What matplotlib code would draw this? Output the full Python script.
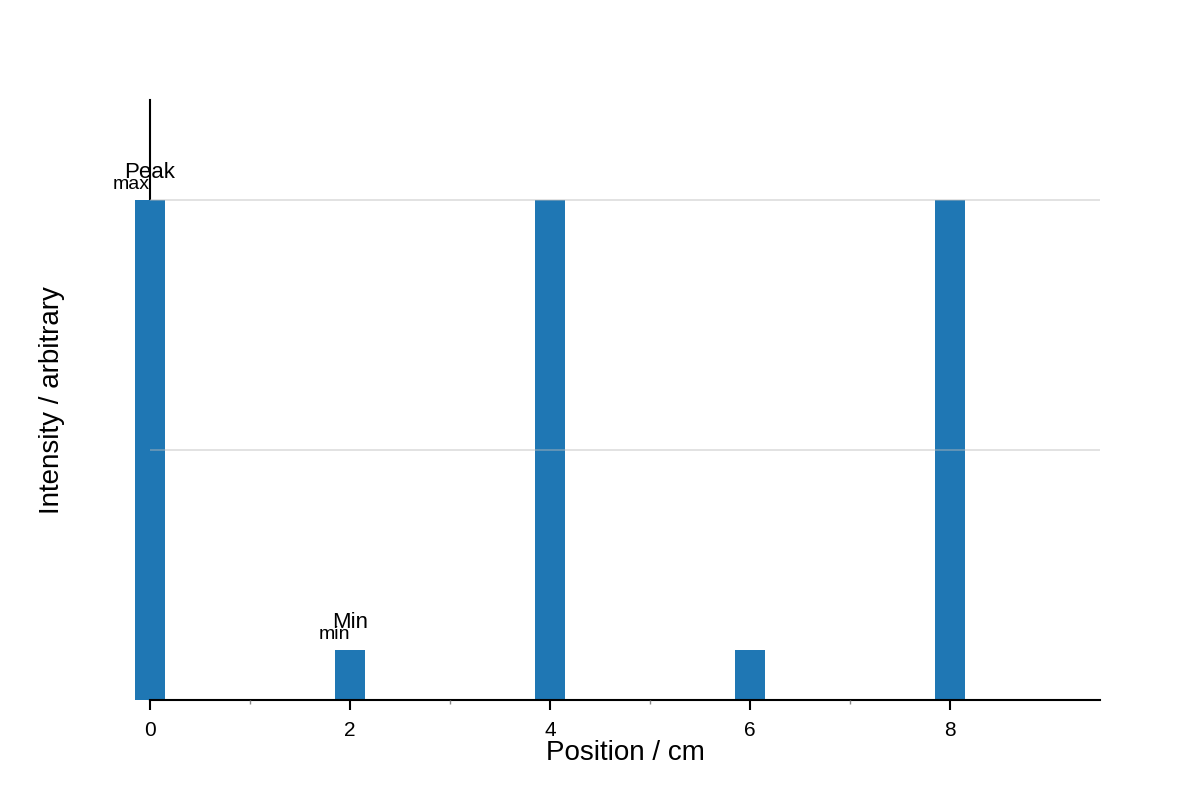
import matplotlib
matplotlib.use("Agg")
import matplotlib.pyplot as plt

positions = [0, 2, 4, 6, 8]
values = [1.0, 0.1, 1.0, 0.1, 1.0]
major_ticks = [0, 2, 4, 6, 8]
minor_ticks = [1, 3, 5, 7]
grid_levels = [0.5, 1.0]

plt.rcParams['font.family'] = ['Liberation Sans', 'DejaVu Sans']

fig = plt.figure(figsize=(12, 8), dpi=100)
ax = fig.add_axes([0.125, 0.125, 0.7917, 0.75])

ax.bar(positions, values, width=0.3, color='#1f77b4', zorder=2, clip_on=False)

ax.set_xlim(0, 9.5)
ax.set_ylim(0, 1.2)
ax.set_xticks(major_ticks)
ax.set_xticks(minor_ticks, minor=True)
ax.set_yticks(grid_levels)
ax.set_yticklabels([])
ax.tick_params(axis='y', length=0)
ax.tick_params(axis='x', which='major', length=7, width=1.5, labelsize=15, pad=8)
ax.tick_params(axis='x', which='minor', length=3, width=1, color='#888888')
ax.set_axisbelow(False)
ax.yaxis.grid(True, color='#bbbbbb', alpha=0.5, linewidth=1.2)

for s in ['top', 'right']:
    ax.spines[s].set_visible(False)
ax.spines['left'].set_zorder(1)
ax.spines['left'].set_linewidth(1.5)
ax.spines['bottom'].set_linewidth(1.5)

ax.set_xlabel('Position / cm', fontsize=20, labelpad=0)
ax.set_ylabel('Intensity / arbitrary', fontsize=20, labelpad=58)

ax.annotate('Peak', xy=(positions[0], values[0]), xytext=(0, 12), textcoords='offset points',
            ha='center', va='bottom', fontsize=16)
ax.annotate('max', xy=(positions[0], values[0]), xytext=(0, 5), textcoords='offset points',
            ha='right', va='bottom', fontsize=14)
ax.annotate('Min', xy=(positions[1], values[1]), xytext=(0, 12), textcoords='offset points',
            ha='center', va='bottom', fontsize=16)
ax.annotate('min', xy=(positions[1], values[1]), xytext=(0, 5), textcoords='offset points',
            ha='right', va='bottom', fontsize=14)

fig.savefig('out.png', dpi=100)
